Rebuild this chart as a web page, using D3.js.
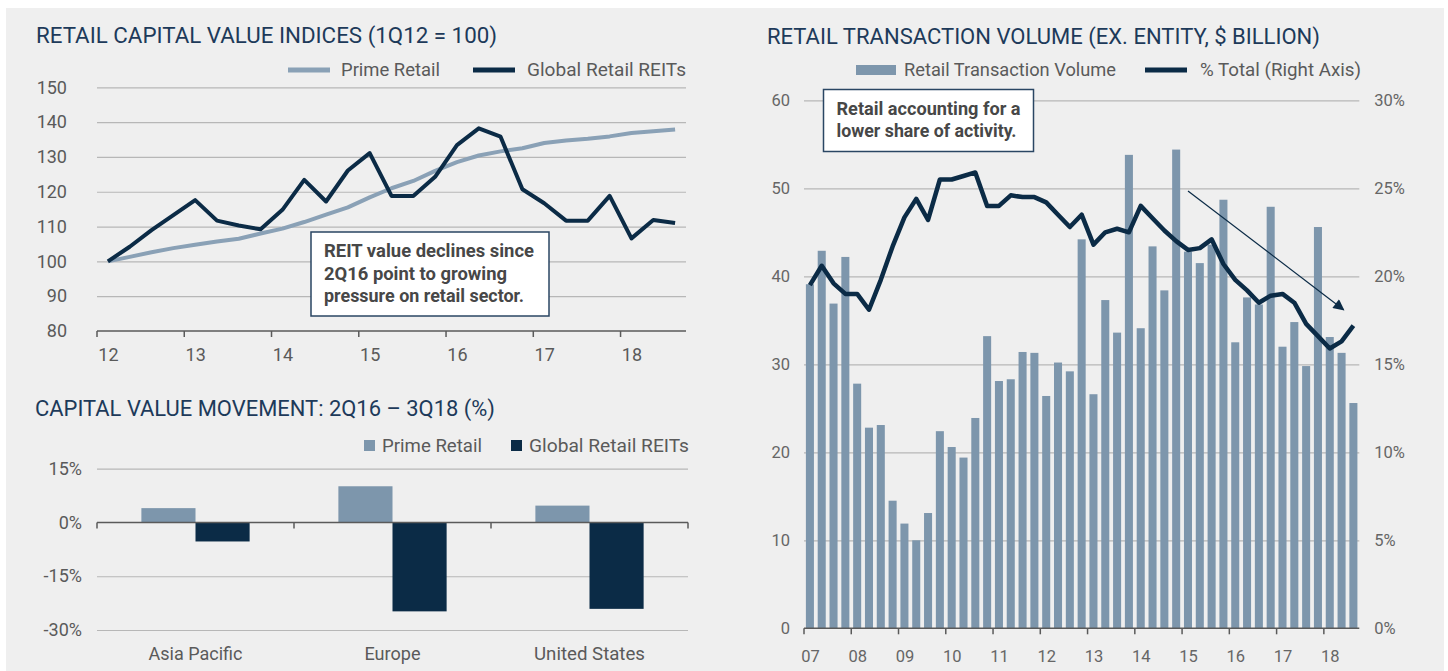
<!DOCTYPE html>
<html>
<head>
<meta charset="utf-8">
<script src="https://cdn.jsdelivr.net/npm/d3@7"></script>
<style>
  body { margin: 0; background: #fff; }
  svg text { font-family: Roboto, "DejaVu Sans", sans-serif; }
</style>
</head>
<body>
<svg id="chart" width="1448" height="671"></svg>
<script>
// ---- data ----
const idxQuarters = [
  "1Q12","2Q12","3Q12","4Q12","1Q13","2Q13","3Q13","4Q13","1Q14","2Q14","3Q14","4Q14",
  "1Q15","2Q15","3Q15","4Q15","1Q16","2Q16","3Q16","4Q16","1Q17","2Q17","3Q17","4Q17",
  "1Q18","2Q18","3Q18"];
const idxYearLabels = ["12","13","14","15","16","17","18"];
const primeIdx = [100,101.3,102.6,103.8,104.8,105.7,106.5,108.0,109.4,111.3,113.4,115.5,118.4,
  121.0,123.1,126.0,128.5,130.4,131.6,132.5,134.0,134.7,135.2,135.9,136.9,137.4,137.9];
const reitIdx = [100,104.2,109.0,113.3,117.6,111.7,110.3,109.2,114.8,123.4,117.2,126.1,131.1,
  118.8,118.8,124.3,133.4,138.2,135.8,120.7,116.7,111.7,111.7,118.8,106.6,111.9,111.0];
const idxTicks = [80,90,100,110,120,130,140,150];

const regions = ["Asia Pacific","Europe","United States"];
const primeMove = [4.0, 10.1, 4.7];
const reitMove = [-5.3, -24.8, -24.1];
const moveTicks = [-30,-15,0,15];

const volQuarters = [
  "1Q07","2Q07","3Q07","4Q07","1Q08","2Q08","3Q08","4Q08","1Q09","2Q09","3Q09","4Q09",
  "1Q10","2Q10","3Q10","4Q10","1Q11","2Q11","3Q11","4Q11","1Q12","2Q12","3Q12","4Q12",
  "1Q13","2Q13","3Q13","4Q13","1Q14","2Q14","3Q14","4Q14","1Q15","2Q15","3Q15","4Q15",
  "1Q16","2Q16","3Q16","4Q16","1Q17","2Q17","3Q17","4Q17","1Q18","2Q18","3Q18"];
const volYearLabels = ["07","08","09","10","11","12","13","14","15","16","17","18"];
const volume = [39.1,42.9,36.9,42.2, 27.8,22.8,23.1,14.5, 11.9,10.0,13.1,22.4,
  20.6,19.4,23.9,33.2, 28.1,28.3,31.4,31.3, 26.4,30.2,29.2,44.2,
  26.6,37.3,33.6,53.8, 34.1,43.4,38.4,54.4, 42.8,41.5,43.6,48.7,
  32.5,37.6,36.8,47.9, 32.0,34.8,29.8,45.6, 33.1,31.3,25.6];
const share = [19.5,20.6,19.6,19.0, 19.0,18.1,19.8,21.7, 23.35,24.4,23.2,25.5,
  25.5,25.7,25.9,24.0, 24.0,24.6,24.5,24.5, 24.2,23.5,22.8,23.5,
  21.8,22.5,22.7,22.5, 24.0,23.3,22.6,22.0, 21.5,21.6,22.1,20.7,
  19.8,19.2,18.5,18.9, 19.0,18.5,17.3,16.6, 15.9,16.3,17.2];
const volTicks = [0,10,20,30,40,50,60];
const shareTicks = [0,5,10,15,20,25,30];
// trend arrow: [quarter, value on left axis]
const trendFrom = ["1Q15", 49.7];
const trendTo = ["2Q18", 36.2];

// ---- colours ----
const C = {
  bg: "#efefef", grid: "#b7b7b7", axis: "#5a5a5a", tick: "#5a5a5a",
  title: "#1d3a5a", light: "#7d96ac", lightLine: "#8aa1b6", navy: "#0b2b46",
  note: "#474747", noteBorder: "#2a4663"
};

const svg = d3.select("#chart");
svg.append("rect").attr("x", 6).attr("y", 8).attr("width", 1438).attr("height", 663).attr("fill", C.bg);

const fit = (sel, w) => sel.attr("textLength", w).attr("lengthAdjust", "spacingAndGlyphs");

function title(x, y, txt, w) {
  svg.append("text").attr("x", x).attr("y", y).attr("dy", "0.36em")
    .attr("font-size", 22).attr("fill", C.title).text(txt).call(fit, w);
}

function legendText(x, y, txt, w) {
  svg.append("text").attr("x", x).attr("y", y).attr("dy", "0.36em")
    .attr("font-size", 18).attr("fill", C.tick).text(txt).call(fit, w);
}

function note(x, y, w, h, lines, widths) {
  const g = svg.append("g");
  g.append("rect").attr("x", x).attr("y", y).attr("width", w).attr("height", h)
    .attr("fill", "#fff").attr("stroke", C.noteBorder).attr("stroke-width", 1.5);
  lines.forEach((l, i) => {
    g.append("text").attr("x", x + 13).attr("y", y + 19 + i * 22.5).attr("dy", "0.36em")
      .attr("font-size", 17.5).attr("font-weight", 700).attr("fill", C.note)
      .text(l).call(fit, widths[i]);
  });
}

function styleAxis(g) {
  g.select(".domain").remove();
  g.selectAll("text").attr("fill", C.tick).attr("font-size", 18);
}

// ================= Chart 1: capital value indices =================
{
  const x = d3.scaleBand().domain(idxQuarters).range([97, 686]);
  const cx = q => x(q) + x.bandwidth() / 2;
  const y = d3.scaleLinear().domain([80, 150]).range([331, 87.3]);

  title(36, 35, "RETAIL CAPITAL VALUE INDICES (1Q12 = 100)", 461);

  // grid
  svg.append("g").attr("transform", "translate(97,0)")
    .call(d3.axisLeft(y).tickValues(idxTicks.slice(1)).tickSize(-589).tickFormat(""))
    .call(g => g.select(".domain").remove())
    .selectAll("line").attr("stroke", C.grid).attr("stroke-width", 1.2);
  // y labels
  svg.append("g").attr("transform", "translate(97,0)")
    .call(d3.axisLeft(y).tickValues(idxTicks).tickSize(0).tickPadding(30))
    .call(styleAxis);

  // x axis
  svg.append("line").attr("x1", 97).attr("x2", 686).attr("y1", y(80)).attr("y2", y(80))
    .attr("stroke", C.axis).attr("stroke-width", 1.5);
  const firstQ = idxYearLabels.map(yr => "1Q" + yr);
  svg.append("g").selectAll("line").data(firstQ).join("line")
    .attr("x1", d => x(d)).attr("x2", d => x(d))
    .attr("y1", y(80)).attr("y2", y(80) + 6).attr("stroke", C.axis).attr("stroke-width", 1.5);
  svg.append("g").attr("transform", `translate(0,${y(80)})`)
    .call(d3.axisBottom(d3.scalePoint().domain(firstQ).range([cx(firstQ[0]), cx(firstQ[firstQ.length - 1])]))
      .tickSize(0).tickPadding(17).tickFormat((d, i) => idxYearLabels[i]))
    .call(styleAxis);

  const line = d3.line().x((d, i) => cx(idxQuarters[i])).y(d => y(d));
  svg.append("path").datum(primeIdx).attr("d", line).attr("fill", "none")
    .attr("stroke", C.lightLine).attr("stroke-width", 4).attr("stroke-linejoin", "round");
  svg.append("path").datum(reitIdx).attr("d", line).attr("fill", "none")
    .attr("stroke", C.navy).attr("stroke-width", 4).attr("stroke-linejoin", "round");

  // legend
  svg.append("line").attr("x1", 288).attr("x2", 330).attr("y1", 70).attr("y2", 70)
    .attr("stroke", C.lightLine).attr("stroke-width", 5);
  legendText(341, 70, "Prime Retail", 99);
  svg.append("line").attr("x1", 473).attr("x2", 515).attr("y1", 70).attr("y2", 70)
    .attr("stroke", C.navy).attr("stroke-width", 5);
  legendText(527, 70, "Global Retail REITs", 159);

  note(311, 232, 238, 84,
    ["REIT value declines since", "2Q16 point to growing", "pressure on retail sector."],
    [210, 183, 200]);
}

// ================= Chart 2: capital value movement =================
{
  const x = d3.scaleBand().domain(regions).range([97, 688]);
  const xs = d3.scaleBand().domain(["prime", "reit"]).range([0, x.bandwidth()]).paddingOuter(0.82).paddingInner(0);
  const y = d3.scaleLinear().domain([-30, 15]).range([630, 468.7]);

  title(35, 408, "CAPITAL VALUE MOVEMENT: 2Q16 \u2013 3Q18 (%)", 460);

  svg.append("g").attr("transform", "translate(97,0)")
    .call(d3.axisLeft(y).tickValues(moveTicks.filter(d => d !== 0)).tickSize(-591).tickFormat(""))
    .call(g => g.select(".domain").remove())
    .selectAll("line").attr("stroke", C.grid).attr("stroke-width", 1.2);
  svg.append("g").attr("transform", "translate(97,0)")
    .call(d3.axisLeft(y).tickValues(moveTicks).tickSize(0).tickPadding(15).tickFormat(d => d + "%"))
    .call(styleAxis);

  const rows = regions.map((r, i) => ({ r, prime: primeMove[i], reit: reitMove[i] }));
  const g = svg.append("g");
  g.selectAll("rect.p").data(rows).join("rect").attr("class", "p")
    .attr("x", d => x(d.r) + xs("prime")).attr("width", xs.bandwidth())
    .attr("y", d => y(Math.max(0, d.prime))).attr("height", d => Math.abs(y(d.prime) - y(0)))
    .attr("fill", C.light);
  g.selectAll("rect.r").data(rows).join("rect").attr("class", "r")
    .attr("x", d => x(d.r) + xs("reit")).attr("width", xs.bandwidth())
    .attr("y", d => y(Math.max(0, d.reit))).attr("height", d => Math.abs(y(d.reit) - y(0)))
    .attr("fill", C.navy);

  svg.append("line").attr("x1", 97).attr("x2", 688).attr("y1", y(0)).attr("y2", y(0))
    .attr("stroke", C.axis).attr("stroke-width", 1.5);
  const bounds = regions.map(r => x(r)).concat([688]);
  svg.append("g").selectAll("line").data(bounds).join("line")
    .attr("x1", d => d).attr("x2", d => d).attr("y1", y(0)).attr("y2", y(0) + 6)
    .attr("stroke", C.axis).attr("stroke-width", 1.5);

  svg.append("g").attr("transform", `translate(0,${y(-30)})`)
    .call(d3.axisBottom(x).tickSize(0).tickPadding(17))
    .call(styleAxis)
    .selectAll("text").each(function (d) {
      d3.select(this).call(fit, { "Asia Pacific": 94, "Europe": 56, "United States": 111 }[d]);
    });

  svg.append("rect").attr("x", 364).attr("y", 440).attr("width", 11).attr("height", 11).attr("fill", C.light);
  legendText(382, 446, "Prime Retail", 100);
  svg.append("rect").attr("x", 511).attr("y", 440).attr("width", 11).attr("height", 11).attr("fill", C.navy);
  legendText(529, 446, "Global Retail REITs", 160);
}

// ================= Chart 3: transaction volume =================
{
  const x = d3.scaleBand().domain(volQuarters).range([804, 1359.3]).paddingInner(0.32).paddingOuter(0.16);
  const cx = q => x(q) + x.bandwidth() / 2;
  const cell = q => x(q) - x.step() * x.paddingInner() / 2;
  const y = d3.scaleLinear().domain([0, 60]).range([628.3, 100.3]);
  const y2 = d3.scaleLinear().domain([0, 30]).range([628.3, 100.3]);

  title(767, 36, "RETAIL TRANSACTION VOLUME (EX. ENTITY, $ BILLION)", 553);

  svg.append("g").attr("transform", "translate(804,0)")
    .call(d3.axisLeft(y).tickValues(volTicks.slice(1)).tickSize(-555.3).tickFormat(""))
    .call(g => g.select(".domain").remove())
    .selectAll("line").attr("stroke", C.grid).attr("stroke-width", 1.2);

  const tickFont = g => g.selectAll("text").attr("font-family", "'DejaVu Sans', sans-serif")
    .attr("font-size", 16.5).attr("fill", "#666");
  svg.append("g").attr("transform", "translate(804,0)")
    .call(d3.axisLeft(y).tickValues(volTicks).tickSize(0).tickPadding(14))
    .call(styleAxis).call(tickFont);
  svg.append("g").attr("transform", "translate(1359.3,0)")
    .call(d3.axisRight(y2).tickValues(shareTicks).tickSize(0).tickPadding(15).tickFormat(d => d + "%"))
    .call(styleAxis).call(tickFont);

  svg.append("g").selectAll("rect").data(volume).join("rect")
    .attr("x", (d, i) => x(volQuarters[i])).attr("width", x.bandwidth())
    .attr("y", d => y(d)).attr("height", d => y(0) - y(d))
    .attr("fill", C.light);

  svg.append("line").attr("x1", 804).attr("x2", 1359.3).attr("y1", y(0)).attr("y2", y(0))
    .attr("stroke", C.axis).attr("stroke-width", 1.5);
  const firstQ = volYearLabels.map(yr => "1Q" + yr);
  svg.append("g").selectAll("line").data(firstQ).join("line")
    .attr("x1", d => cell(d)).attr("x2", d => cell(d))
    .attr("y1", y(0)).attr("y2", y(0) + 6).attr("stroke", C.axis).attr("stroke-width", 1.5);
  svg.append("g").attr("transform", `translate(0,${y(0)})`)
    .call(d3.axisBottom(d3.scalePoint().domain(firstQ).range([cx(firstQ[0]), cx(firstQ[firstQ.length - 1])]))
      .tickSize(0).tickPadding(22).tickFormat((d, i) => volYearLabels[i]))
    .call(styleAxis).call(tickFont);

  const line = d3.line().x((d, i) => cx(volQuarters[i])).y(d => y2(d));
  svg.append("path").datum(share).attr("d", line).attr("fill", "none")
    .attr("stroke", C.navy).attr("stroke-width", 4.5).attr("stroke-linejoin", "round");

  // trend arrow
  svg.append("defs").append("marker").attr("id", "head")
    .attr("viewBox", "0 0 10 10").attr("refX", 9).attr("refY", 5)
    .attr("markerWidth", 13).attr("markerHeight", 11).attr("markerUnits", "userSpaceOnUse")
    .attr("orient", "auto")
    .append("path").attr("d", "M0,0 L10,5 L0,10 Z").attr("fill", C.navy);
  svg.append("line")
    .attr("x1", cx(trendFrom[0])).attr("y1", y(trendFrom[1]))
    .attr("x2", cx(trendTo[0]) + 2).attr("y2", y(trendTo[1]))
    .attr("stroke", C.navy).attr("stroke-width", 1.2).attr("marker-end", "url(#head)");

  // legend
  svg.append("rect").attr("x", 856).attr("y", 65).attr("width", 40).attr("height", 10).attr("fill", C.light);
  legendText(904, 70, "Retail Transaction Volume", 212);
  svg.append("line").attr("x1", 1145).attr("x2", 1187).attr("y1", 70).attr("y2", 70)
    .attr("stroke", C.navy).attr("stroke-width", 5);
  legendText(1200, 70, "% Total (Right Axis)", 161);

  note(823.5, 89.5, 210, 62,
    ["Retail accounting for a", "lower share of activity."],
    [184, 180]);
}
</script>
</body>
</html>
